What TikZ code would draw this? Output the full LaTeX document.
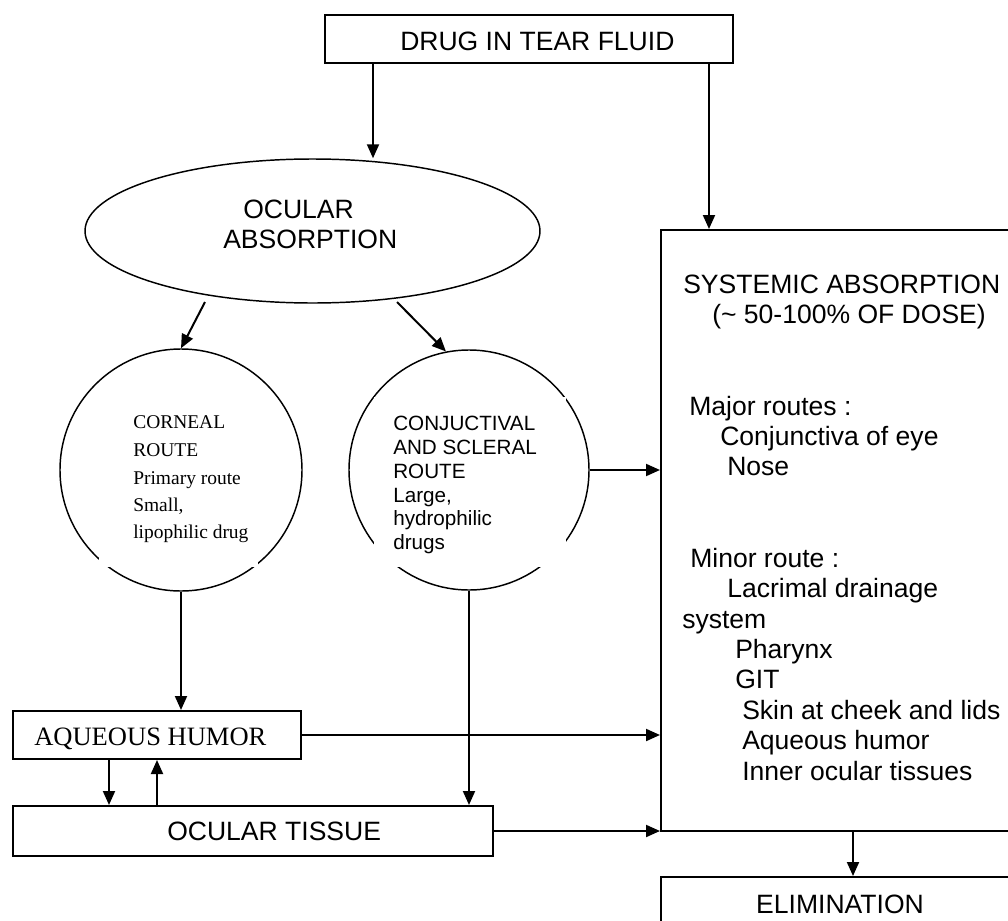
\documentclass[tikz,border=0pt]{standalone}
\usepackage{fontspec}
\setmainfont{Liberation Sans}
\newfontfamily\tnr{Liberation Serif}
\usetikzlibrary{arrows.meta,shapes.geometric}
\begin{document}
\begin{tikzpicture}[x=0.75pt,y=-0.75pt,
  box/.style={draw, line width=1.5pt, inner sep=0pt},
  ring/.style={draw, circle, line width=1.1pt, inner sep=0pt},
  arr/.style={-{Triangle[length=10.5pt,width=9pt]}, line width=1.5pt},
  lbl/.style={anchor=base west, inner sep=0pt, font=\fontsize{19.9pt}{22.8pt}\selectfont},
  clbl/.style={anchor=base west, inner sep=0pt, font=\tnr\fontsize{14.6pt}{17pt}\selectfont},
  jlbl/.style={anchor=base west, inner sep=0pt, font=\fontsize{15.5pt}{18pt}\selectfont},
  tlbl/.style={anchor=base west, inner sep=0pt, font=\tnr\fontsize{19.9pt}{22.8pt}\selectfont},
]
\useasboundingbox (0,0) rectangle (1008,921);
\clip (0,0) rectangle (1008,921);

% boxes
\node[box, minimum width=306pt, minimum height=36pt] (top) at (529,39) {};
\node[lbl] (toptext) at (400,50) {DRUG IN TEAR FLUID};

\node[draw, ellipse, line width=1.1pt, minimum width=341.25pt, minimum height=108pt, inner sep=0pt] (oa) at (312.5,231) {};
\node[lbl] (oa1) at (243,218) {OCULAR};
\node[lbl] (oa2) at (223,248) {ABSORPTION};

\node[ring, minimum size=181.5pt] (cor) at (181,470) {};
\node[ring, minimum size=180pt] (conj) at (469,470) {};
\fill[white] (99,400) rectangle (258,567);
\fill[white] (374,397) rectangle (566,567);

\node[clbl] (c1) at (133,428) {CORNEAL};
\node[clbl] (c2) at (133,456) {ROUTE};
\node[clbl] (c3) at (133,484) {Primary route};
\node[clbl] (c4) at (133,511) {Small,};
\node[clbl] (c5) at (133,538) {lipophilic drug};

\node[jlbl] (j1) at (393,430) {CONJUCTIVAL};
\node[jlbl] (j2) at (393,454) {AND SCLERAL};
\node[jlbl] (j3) at (393,478) {ROUTE};
\node[jlbl] (j4) at (393,502) {Large,};
\node[jlbl] (j5) at (393,525) {hydrophilic};
\node[jlbl] (j6) at (393,549) {drugs};

\node[box, minimum width=216pt, minimum height=36pt] (aq) at (157,735) {};
\node[tlbl] (aqtext) at (34,745) {AQUEOUS HUMOR};

\node[box, minimum width=360pt, minimum height=37.5pt] (ot) at (253,831) {};
\node[lbl] (ottext) at (167,840) {OCULAR TISSUE};

\node[box, minimum width=265.5pt, minimum height=450.75pt] (sys) at (838,530.5) {};
\node[lbl] (s1) at (683,293) {SYSTEMIC ABSORPTION};
\node[lbl] (s2) at (712,323) {({\char"007E} 50-100\% OF DOSE)};
\node[lbl] (s3) at (689,415) {Major routes :};
\node[lbl] (s4) at (720,445) {Conjunctiva of eye};
\node[lbl] (s5) at (727,475) {Nose};
\node[lbl] (s6) at (690,567) {Minor route :};
\node[lbl] (s7) at (727,597) {Lacrimal drainage};
\node[lbl] (s8) at (682,628) {system};
\node[lbl] (s9) at (735,658) {Pharynx};
\node[lbl] (s10) at (735,688) {GIT};
\node[lbl] (s11) at (742,719) {Skin at cheek and lids};
\node[lbl] (s12) at (742,749) {Aqueous humor};
\node[lbl] (s13) at (742,780) {Inner ocular tissues};

\node[box, minimum width=265.5pt, minimum height=47.25pt] (el) at (838,908.5) {};
\node[lbl, anchor=base] (eltext) at (840,913) {ELIMINATION};

% coordinates for vertical connectors
\coordinate (xa) at (373,0);
\coordinate (xb) at (709,0);
\coordinate (xd) at (109,0);
\coordinate (xu) at (157,0);
\coordinate (xe) at (853,0);
\coordinate (e1) at (205,302);
\coordinate (e2) at (397,302);

% connectors
\draw[arr] (top.south -| xa) -- (oa.north -| xa);
\draw[arr] (top.south -| xb) -- (sys.north -| xb);
\draw[arr] (e1) -- (cor.north);
\draw[arr] (e2) -- (conj.101);
\draw[arr] (cor.south) -- (aq.north -| cor.south);
\draw[arr] (conj.south) -- (ot.north -| conj.south);
\draw[arr] (conj.east) -- (sys.west |- conj.east);
\draw[arr] (aq.east) -- (sys.west |- aq.east);
\draw[arr] (ot.east) -- (sys.west |- ot.east);
\draw[arr] (aq.south -| xd) -- (ot.north -| xd);
\draw[arr] (ot.north -| xu) -- (aq.south -| xu);
\draw[arr] (sys.south -| xe) -- (el.north -| xe);
\end{tikzpicture}
\end{document}
